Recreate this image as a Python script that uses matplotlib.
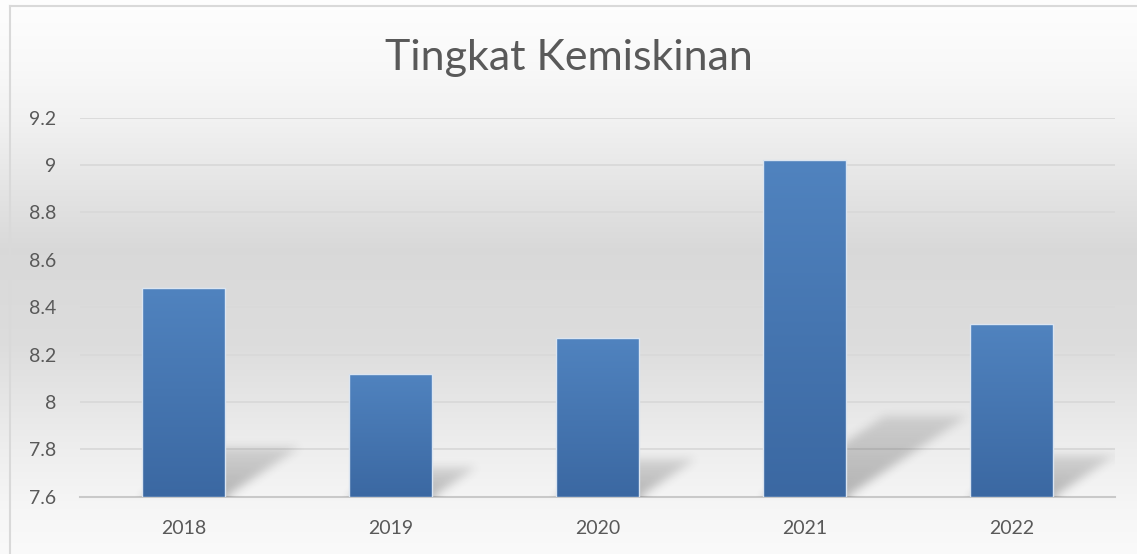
import numpy as np
import matplotlib
matplotlib.use('Agg')
import matplotlib.pyplot as plt
from matplotlib.lines import Line2D

# ---- data ----
years = ['2018', '2019', '2020', '2021', '2022']
values = [8.48, 8.12, 8.27, 9.02, 8.33]
yticks = [7.6, 7.8, 8.0, 8.2, 8.4, 8.6, 8.8, 9.0, 9.2]
ytick_labels = ['7.6', '7.8', '8', '8.2', '8.4', '8.6', '8.8', '9', '9.2']
title = 'Tingkat Kemiskinan'

FW, FH = 1137, 554
fig = plt.figure(figsize=(FW / 100, FH / 100), dpi=100)

# ---- background vertical gradient ----
bg = fig.add_axes([0, 0, 1, 1], zorder=-10)
bg.set_axis_off()
pos = np.array([0.0, 0.12, 0.22, 0.45, 0.62, 0.80, 0.92, 1.0])
lev = np.array([0.995, 0.975, 0.945, 0.85, 0.865, 0.93, 0.965, 0.98])
rows = np.linspace(0, 1, FH)
g = np.interp(rows, pos, lev)
bgimg = np.repeat(g[:, None], 4, axis=1)
bgimg = np.dstack([bgimg, bgimg, bgimg])
bg.imshow(bgimg, aspect='auto', extent=(0, 1, 0, 1), origin='upper')
bg.set_xlim(0, 1)
bg.set_ylim(0, 1)

# border (left and top visible)
fig.add_artist(Line2D([9.5 / FW, 9.5 / FW], [0, 1 - 5.5 / FH], transform=fig.transFigure,
                      color='#d9d9d9', lw=1.5))
fig.add_artist(Line2D([9.5 / FW, 1], [1 - 5.5 / FH, 1 - 5.5 / FH], transform=fig.transFigure,
                      color='#d9d9d9', lw=1.5))

# ---- main axes ----
ax_l, ax_r = 80, 1115
ax_top, ax_bot = 117.7, 496.7
ax = fig.add_axes([ax_l / FW, (FH - ax_bot) / FH, (ax_r - ax_l) / FW, (ax_bot - ax_top) / FH])
ax.patch.set_visible(False)
x_lo, x_hi = -0.5, len(years) - 0.5
y_lo, y_hi = yticks[0], yticks[-1]
ax.set_xlim(x_lo, x_hi)
ax.set_ylim(y_lo, y_hi)
for s in ax.spines.values():
    s.set_visible(False)

for t in yticks[1:]:
    ax.axhline(t, color='#d9d9d9', lw=1.3, zorder=0.5)
ax.axhline(y_lo, color='#c9c9c9', lw=1.5, zorder=0.6, clip_on=False)

# ---- shadows (perspective, blurred) ----
aw, ah = int(ax_r - ax_l), int(round(ax_bot - ax_top))
pxx = aw / (x_hi - x_lo)
pxy = ah / (y_hi - y_lo)
bw = 0.4
yy, xx = np.mgrid[0:ah, 0:aw] + 0.5
sh = np.zeros((ah, aw))
for i, v in enumerate(values):
    h = (v - y_lo) * pxy
    x0 = (i - bw / 2 - x_lo) * pxx
    x1 = x0 + bw * pxx
    dx, dy = 0.36 * h, 0.24 * h
    t = yy / dy
    inside = (t >= 0) & (t <= 1) & (xx >= x0 + t * dx) & (xx <= x1 + t * dx)
    sh = np.maximum(sh, np.where(inside, 0.32 * (1 - 0.55 * t), 0))


def box_blur(a, r):
    p = np.pad(a, ((0, 0), (r, r)), mode='edge')
    c = np.cumsum(np.pad(p, ((0, 0), (1, 0))), axis=1)
    a = (c[:, 2 * r + 1:] - c[:, :-2 * r - 1]) / (2 * r + 1)
    p = np.pad(a, ((r, r), (0, 0)), mode='edge')
    c = np.cumsum(np.pad(p, ((1, 0), (0, 0))), axis=0)
    return (c[2 * r + 1:, :] - c[:-2 * r - 1, :]) / (2 * r + 1)


for _ in range(3):
    sh = box_blur(sh, 4)
rgba = np.zeros((ah, aw, 4))
rgba[..., :3] = 0.15
rgba[..., 3] = sh
ax.imshow(rgba, extent=(x_lo, x_hi, y_lo, y_hi), origin='lower', aspect='auto',
          zorder=1, interpolation='bilinear')

# ---- bars with vertical gradient ----
xs = np.arange(len(years))
heights = [v - y_lo for v in values]
bars = ax.bar(xs, heights, bottom=y_lo, width=bw, color='#4677b2', zorder=2)
top_c = np.array([80, 131, 191]) / 255
bot_c = np.array([59, 104, 162]) / 255
grad = np.linspace(0, 1, 256)[:, None]
gimg = top_c[None, None, :] * (1 - grad[..., None]) + bot_c[None, None, :] * grad[..., None]
for b, v in zip(bars, values):
    x0 = b.get_x()
    im = ax.imshow(gimg, extent=(x0, x0 + bw, y_lo, v), origin='upper', aspect='auto',
                   zorder=2.1, interpolation='bilinear')
    im.set_clip_path(b)
ax.bar(xs, heights, bottom=y_lo, width=bw, facecolor='none', edgecolor='#dbe5f1',
       linewidth=1.0, zorder=2.2)

# ---- ticks ----
font = 'Lato'
ax.set_yticks(yticks)
ax.set_yticklabels(ytick_labels)
ax.set_xticks(xs)
ax.set_xticklabels(years)
ax.tick_params(axis='both', length=0, colors='#595959', labelsize=14)
ax.tick_params(axis='y', pad=17)
ax.tick_params(axis='x', pad=17)
for lab in ax.get_xticklabels() + ax.get_yticklabels():
    lab.set_fontfamily(font)

fig.text(0.5, 1 - 58 / FH, title, ha='center', va='center', fontsize=31,
         color='#595959', family=font, fontweight='normal')

fig.savefig('out.png', dpi=100)
